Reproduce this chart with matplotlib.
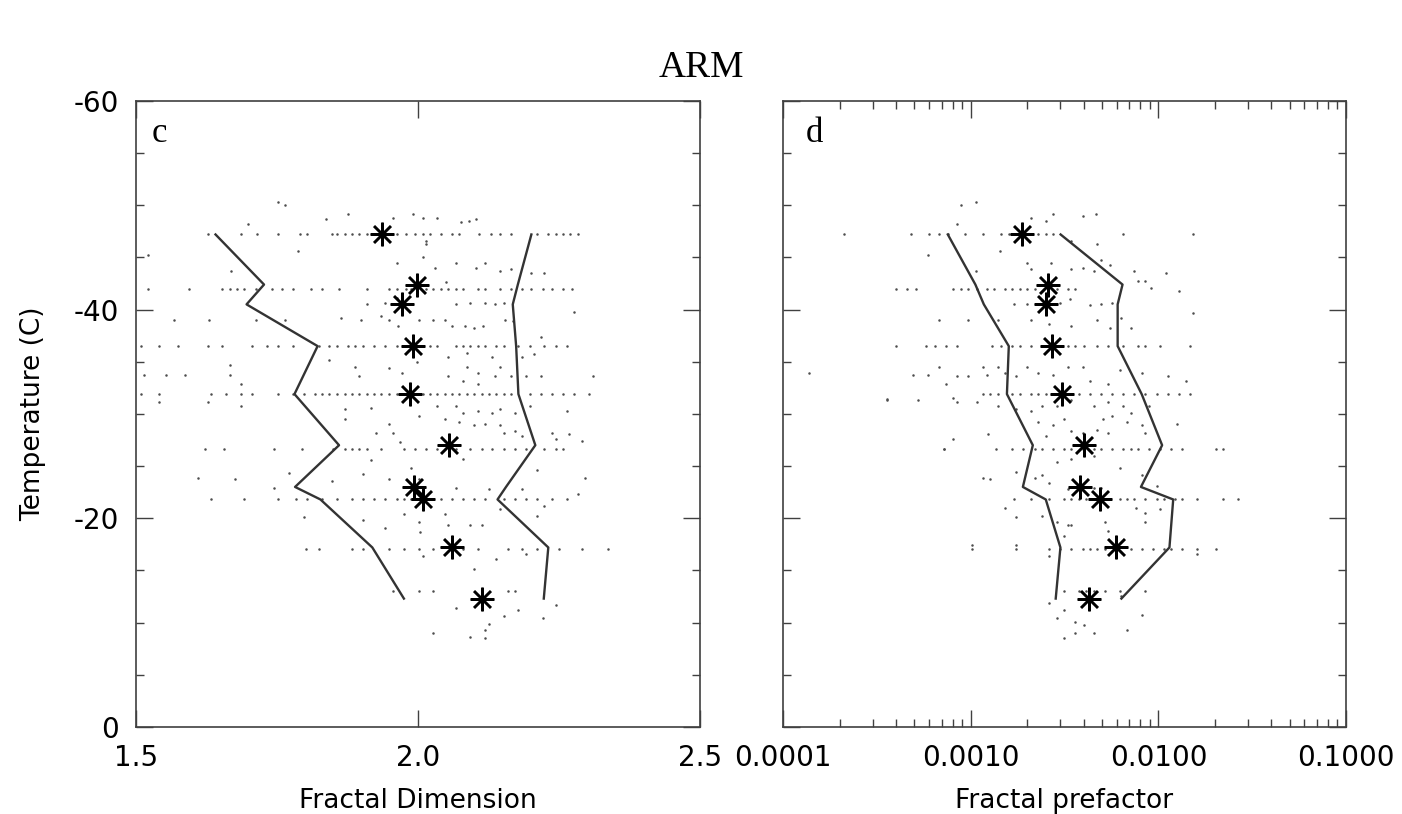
import numpy as np
import matplotlib.pyplot as plt
from matplotlib.ticker import MultipleLocator, LogLocator, NullFormatter

plt.rcParams['axes.unicode_minus'] = False
tick_font = ['Liberation Sans Narrow', 'DejaVu Sans Condensed', 'DejaVu Sans']
serif_font = ['Liberation Serif', 'DejaVu Serif']

# temperature levels of the stars / percentile lines
temp_levels = [-47.2, -42.4, -40.5, -36.5, -31.9, -27.0, -23.0, -21.8, -17.2, -12.3]

# panel c: fractal dimension
dim_median = [1.937, 1.998, 1.971, 1.992, 1.986, 2.055, 1.993, 2.008, 2.061, 2.113]
dim_low = [1.641, 1.727, 1.696, 1.822, 1.781, 1.860, 1.782, 1.827, 1.919, 1.975]
dim_high = [2.201, 2.177, 2.168, 2.174, 2.178, 2.208, 2.156, 2.141, 2.231, 2.223]

# panel d: fractal prefactor (log10)
pref_median_log = [-2.725, -2.587, -2.600, -2.565, -2.512, -2.394, -2.417, -2.311, -2.226, -2.368]
pref_low_log = [-3.122, -2.975, -2.930, -2.797, -2.807, -2.669, -2.722, -2.600, -2.522, -2.547]
pref_high_log = [-2.521, -2.191, -2.217, -2.217, -2.089, -1.980, -2.093, -1.921, -1.941, -2.197]

# individual points, grouped on the temperature rows
row_temps = [-47.2, -42.0, -36.5, -31.9, -26.6, -21.8, -17.1, -13.0]

dim_rows = [
    [1.627, 1.686, 1.715, 1.751, 1.791, 1.804, 1.847, 1.857, 1.870, 1.883, 1.896, 1.909, 1.962, 1.978, 1.994,
     2.008, 2.021, 2.040, 2.060, 2.073, 2.109, 2.129, 2.145, 2.165, 2.211, 2.231, 2.244, 2.257, 2.270, 2.283],
    [1.522, 1.594, 1.653, 1.666, 1.679, 1.692, 1.712, 1.742, 1.758, 1.778, 1.811, 1.830, 1.860, 1.909, 1.948,
     1.962, 1.978, 1.988, 2.014, 2.027, 2.040, 2.054, 2.067, 2.080, 2.106, 2.119, 2.145, 2.165, 2.185, 2.201,
     2.221, 2.237, 2.257, 2.273],
    [1.509, 1.541, 1.574, 1.627, 1.653, 1.706, 1.732, 1.751, 1.778, 1.824, 1.843, 1.857, 1.876, 1.889, 1.902,
     1.922, 1.942, 1.962, 2.021, 2.034, 2.067, 2.080, 2.093, 2.106, 2.119, 2.139, 2.152, 2.178, 2.198, 2.224,
     2.244, 2.264],
    [1.509, 1.541, 1.633, 1.660, 1.686, 1.706, 1.751, 1.778, 1.797, 1.817, 1.830, 1.843, 1.857, 1.870, 1.883,
     1.896, 1.909, 1.922, 1.935, 1.948, 1.962, 1.975, 2.008, 2.021, 2.034, 2.047, 2.060, 2.073, 2.086, 2.099,
     2.113, 2.126, 2.139, 2.152, 2.165, 2.198, 2.218, 2.237, 2.257, 2.277, 2.303],
    [1.623, 1.656, 1.745, 1.794, 1.850, 1.870, 1.883, 1.896, 1.909, 1.935, 1.975, 1.994, 2.014, 2.034, 2.067,
     2.093, 2.113, 2.132, 2.152, 2.172, 2.191, 2.224, 2.244, 2.257],
    [1.633, 1.692, 1.751, 1.784, 1.804, 1.830, 1.857, 1.883, 1.902, 1.922, 1.942, 1.962, 1.975, 1.988, 2.021,
     2.040, 2.060, 2.080, 2.099, 2.119, 2.152, 2.172, 2.191, 2.211, 2.237, 2.264],
    [1.801, 1.824, 1.883, 1.902, 1.948, 1.975, 2.001, 2.027, 2.080, 2.106, 2.159, 2.185, 2.211, 2.250, 2.290,
     2.336],
    [1.955, 2.001, 2.027, 2.159, 2.172],
]

dim_extra = [
    (1.751, -50.3), (1.765, -50.0), (1.837, -48.7), (1.876, -49.2), (1.955, -48.8), (1.991, -49.2),
    (2.008, -48.8), (2.034, -48.8), (2.076, -48.4), (2.090, -48.5), (2.103, -48.7), (1.699, -48.2),
    (1.788, -45.6), (2.014, -46.6), (2.014, -46.3), (1.522, -45.2), (1.669, -43.7), (1.962, -44.5),
    (2.008, -45.0), (2.031, -44.0), (2.067, -44.5), (2.103, -44.0), (2.119, -44.5), (2.145, -43.7),
    (2.165, -43.9), (2.201, -43.5), (2.224, -43.5), (1.909, -40.5), (1.942, -40.6), (1.962, -41.1),
    (2.050, -42.6), (2.067, -40.5), (2.093, -40.6), (2.119, -40.6), (2.136, -40.5), (2.152, -40.6),
    (2.277, -39.8), (1.568, -39.0), (1.630, -39.0), (1.712, -39.0), (1.765, -39.0), (1.863, -39.2),
    (1.899, -39.0), (1.935, -39.4), (1.948, -39.0), (1.965, -38.4), (2.001, -39.0), (2.027, -39.0),
    (2.047, -39.0), (2.060, -38.4), (2.083, -38.4), (2.099, -38.2), (2.116, -38.4), (2.155, -39.0),
    (2.168, -38.9), (2.218, -37.4), (1.666, -34.7), (1.843, -35.2), (1.889, -34.5), (1.896, -33.6),
    (1.948, -34.4), (1.971, -33.9), (1.998, -35.0), (2.054, -35.5), (2.086, -35.8), (2.086, -34.5),
    (2.106, -33.9), (2.132, -35.5), (2.145, -34.5), (2.185, -35.5), (2.205, -35.7), (1.515, -33.7),
    (1.554, -33.7), (1.587, -33.7), (1.666, -33.7), (1.686, -32.9), (2.054, -33.6), (2.080, -33.2),
    (2.106, -32.9), (2.136, -33.6), (2.165, -33.6), (2.191, -33.6), (2.218, -33.6), (2.310, -33.6),
    (1.541, -31.1), (1.627, -31.1), (1.686, -30.8), (1.870, -30.5), (1.916, -30.6), (1.870, -29.5),
    (1.948, -29.0), (1.955, -28.2), (1.968, -27.3), (1.925, -28.2), (2.080, -30.1), (2.106, -30.3),
    (2.132, -30.1), (2.145, -30.5), (2.172, -30.1), (2.198, -30.8), (2.264, -30.3), (2.073, -29.2),
    (2.099, -28.9), (2.119, -29.0), (2.145, -28.9), (2.172, -28.4), (2.185, -27.9), (2.237, -28.2),
    (2.267, -28.1), (2.290, -27.4), (2.244, -27.6), (2.152, -28.2), (2.001, -29.8), (2.034, -30.8),
    (2.047, -29.5), (2.067, -30.8), (1.916, -25.6), (1.988, -24.8), (2.080, -25.7), (2.211, -24.6),
    (2.296, -23.9), (1.610, -23.9), (1.676, -23.8), (1.771, -24.3), (1.902, -24.2), (1.847, -23.6),
    (1.948, -23.8), (2.001, -23.8), (2.067, -22.9), (2.126, -22.8), (2.185, -22.8), (2.283, -22.3),
    (1.745, -22.9), (1.797, -20.1), (1.902, -19.8), (1.942, -19.1), (1.975, -20.4), (2.001, -19.6),
    (2.004, -18.7), (2.047, -20.4), (2.054, -19.4), (2.093, -19.4), (2.113, -19.4), (2.211, -20.2),
    (2.145, -20.9), (2.224, -21.2), (2.099, -15.1), (2.139, -16.1), (2.191, -16.6), (2.008, -16.4),
    (2.244, -11.7), (2.178, -11.2), (2.152, -10.6), (2.126, -9.9), (2.119, -9.3), (2.027, -9.0),
    (2.093, -8.6), (2.119, -8.5), (2.067, -11.4), (2.221, -10.4),
]

pref_rows_log = [
    [-3.673, -3.319, -3.220, -3.171, -3.122, -3.033, -2.935, -2.837, -2.797, -2.758, -2.679, -2.640, -2.600,
     -2.561, -2.187, -1.813],
    [-3.398, -3.339, -3.289, -3.093, -3.053, -3.014, -2.965, -2.915, -2.876, -2.817, -2.778, -2.738, -2.699,
     -2.659, -2.541, -2.482, -2.443],
    [-3.398, -3.240, -3.191, -3.132, -3.073, -2.886, -2.837, -2.778, -2.738, -2.679, -2.620, -2.541, -2.482,
     -2.443, -2.394, -2.325, -2.266, -2.187, -2.108, -2.069, -1.990, -1.833],
    [-2.935, -2.896, -2.856, -2.778, -2.738, -2.679, -2.640, -2.600, -2.541, -2.482, -2.423, -2.364, -2.305,
     -2.246, -2.187, -2.128, -2.069, -2.010, -1.951, -1.892, -1.833],
    [-3.142, -2.866, -2.778, -2.719, -2.659, -2.620, -2.561, -2.502, -2.463, -2.404, -2.344, -2.305, -2.246,
     -2.187, -2.148, -2.108, -2.049, -1.990, -1.931, -1.872, -1.695, -1.656],
    [-2.768, -2.679, -2.581, -2.502, -2.463, -2.423, -2.384, -2.344, -2.266, -2.207, -2.167, -2.128, -2.069,
     -2.010, -1.970, -1.911, -1.872, -1.793, -1.656, -1.577],
    [-2.994, -2.758, -2.581, -2.522, -2.463, -2.404, -2.364, -2.325, -2.285, -2.148, -2.089, -2.030, -1.970,
     -1.931, -1.872, -1.793, -1.695],
    [-2.502, -2.423, -2.384, -2.344, -2.285, -2.207, -2.069],
]

pref_extra_log = [
    (-3.053, -50.0), (-2.974, -50.3), (-2.679, -48.8), (-2.600, -48.5), (-2.561, -49.2), (-2.404, -49.0),
    (-2.335, -49.2), (-3.073, -48.2), (-2.846, -45.6), (-2.325, -46.3), (-2.463, -46.6), (-3.230, -45.2),
    (-2.699, -44.5), (-2.571, -44.5), (-2.463, -43.9), (-2.404, -44.0), (-2.344, -43.7), (-2.305, -44.8),
    (-2.256, -44.3), (-2.128, -43.7), (-2.069, -42.7), (-1.961, -43.5), (-1.892, -41.8), (-2.039, -42.1),
    (-2.108, -42.7), (-2.974, -43.7), (-2.679, -43.9), (-2.768, -40.5), (-2.699, -40.5), (-2.522, -40.6),
    (-2.472, -41.0), (-2.364, -40.4), (-2.305, -40.5), (-2.246, -40.6), (-1.813, -39.7), (-3.171, -39.0),
    (-3.014, -39.0), (-2.856, -39.0), (-2.679, -39.0), (-2.581, -38.6), (-2.463, -38.4), (-2.325, -39.0),
    (-2.256, -38.2), (-2.197, -39.2), (-2.148, -38.2), (-3.860, -33.9), (-3.309, -33.7), (-3.230, -33.7),
    (-3.171, -34.5), (-3.132, -32.9), (-3.073, -33.6), (-3.014, -33.6), (-2.915, -33.7), (-2.935, -34.5),
    (-2.856, -34.5), (-2.817, -33.9), (-2.758, -33.6), (-2.699, -34.5), (-2.640, -33.9), (-2.561, -33.7),
    (-2.482, -34.5), (-2.404, -34.5), (-2.364, -33.2), (-2.266, -32.9), (-2.207, -34.2), (-2.089, -33.9),
    (-1.951, -33.6), (-1.852, -33.2), (-3.447, -31.3), (-3.093, -31.5), (-3.447, -31.4), (-3.280, -31.3),
    (-3.073, -31.1), (-2.965, -31.1), (-2.856, -30.8), (-2.758, -30.5), (-2.679, -30.3), (-2.620, -30.8),
    (-2.541, -30.8), (-2.463, -31.3), (-2.344, -30.8), (-2.266, -31.1), (-2.187, -30.8), (-2.148, -30.1),
    (-2.049, -30.8), (-2.640, -29.2), (-2.561, -28.9), (-2.502, -29.5), (-2.463, -28.4), (-2.404, -28.2),
    (-2.325, -28.5), (-2.266, -28.2), (-2.167, -29.2), (-2.089, -28.9), (-2.069, -28.2), (-1.902, -29.0),
    (-2.600, -27.9), (-2.906, -28.1), (-3.093, -27.6), (-3.142, -26.6), (-2.295, -29.5), (-2.246, -29.8),
    (-2.935, -23.9), (-2.896, -23.8), (-2.758, -24.4), (-2.659, -23.9), (-2.620, -24.1), (-2.541, -25.4),
    (-2.463, -25.7), (-2.344, -26.0), (-2.207, -24.8), (-2.089, -24.1), (-2.010, -23.1), (-2.581, -23.4),
    (-2.482, -22.8), (-2.344, -22.9), (-2.305, -22.9), (-2.817, -21.0), (-2.758, -20.1), (-2.620, -20.2),
    (-2.541, -19.6), (-2.482, -19.4), (-2.463, -19.4), (-2.285, -19.6), (-2.266, -18.8), (-2.069, -19.6),
    (-2.069, -20.5), (-1.990, -20.9), (-2.118, -21.0), (-2.758, -17.4), (-2.994, -17.4), (-2.502, -18.3),
    (-2.581, -16.4), (-1.793, -16.6), (-2.581, -11.9), (-2.502, -11.2), (-2.541, -10.4), (-2.443, -10.1),
    (-2.394, -9.8), (-2.344, -9.0), (-2.443, -9.0), (-2.502, -8.5), (-2.167, -9.3), (-2.089, -10.7),
    (-2.197, -12.5),
]


def gather(rows, extra):
    xs, ts = [], []
    for t, row in zip(row_temps, rows):
        xs += row
        ts += [t] * len(row)
    xs += [p[0] for p in extra]
    ts += [p[1] for p in extra]
    return np.array(xs), np.array(ts)


def style_axes(ax):
    for s in ax.spines.values():
        s.set_linewidth(1.2)
        s.set_color('0.25')
    ax.tick_params(which='both', direction='in', top=True, right=True,
                   color='0.25', width=1.0, labelsize=20, pad=12)
    ax.tick_params(which='major', length=12)
    ax.tick_params(which='minor', length=6)
    ax.set_ylim(0, -60)
    ax.yaxis.set_major_locator(MultipleLocator(20))
    ax.yaxis.set_minor_locator(MultipleLocator(5))
    for lab in ax.get_xticklabels() + ax.get_yticklabels():
        lab.set_family(tick_font)


fig = plt.figure(figsize=(14.02, 8.14), dpi=100)
ax1 = fig.add_axes([0.097, 0.107, 0.4023, 0.769])
ax2 = fig.add_axes([0.5585, 0.107, 0.4016, 0.769])

dot_style = dict(ls='none', marker='o', ms=1.8, color='0.3', mec='none')
star_style = dict(ls='none', marker=(8, 2, 0), ms=17, mew=1.8, color='k')
line_style = dict(color='0.2', lw=1.7)

# panel c
dx, dt = gather(dim_rows, dim_extra)
ax1.plot(dx, dt, **dot_style)
ax1.plot(dim_low, temp_levels, **line_style)
ax1.plot(dim_high, temp_levels, **line_style)
ax1.plot(dim_median, temp_levels, **star_style)
ax1.set_xlim(1.5, 2.5)
ax1.set_xticks([1.5, 2.0, 2.5])
ax1.set_xticklabels(['1.5', '2.0', '2.5'])
ax1.set_yticks([-60, -40, -20, 0])
ax1.set_yticklabels(['-60', '-40', '-20', '0'])
style_axes(ax1)
ax1.set_xlabel('Fractal Dimension', fontsize=19, family=tick_font, labelpad=12)
ax1.set_ylabel('Temperature (C)', fontsize=19, family=tick_font, labelpad=20)
ax1.text(0.028, 0.935, 'c', transform=ax1.transAxes, fontsize=25, family=serif_font)

# panel d
px, pt = gather(pref_rows_log, pref_extra_log)
ax2.set_xscale('log')
ax2.plot(10 ** px, pt, **dot_style)
ax2.plot(10 ** np.array(pref_low_log), temp_levels, **line_style)
ax2.plot(10 ** np.array(pref_high_log), temp_levels, **line_style)
ax2.plot(10 ** np.array(pref_median_log), temp_levels, **star_style)
ax2.set_xlim(1e-4, 1e-1)
ax2.set_xticks([1e-4, 1e-3, 1e-2, 1e-1])
ax2.set_xticklabels(['0.0001', '0.0010', '0.0100', '0.1000'])
ax2.xaxis.set_minor_locator(LogLocator(base=10, subs=np.arange(2, 10)))
ax2.xaxis.set_minor_formatter(NullFormatter())
style_axes(ax2)
ax2.set_yticklabels([])
ax2.set_xlabel('Fractal prefactor', fontsize=19, family=tick_font, labelpad=12)
ax2.text(0.04, 0.935, 'd', transform=ax2.transAxes, fontsize=25, family=serif_font)

fig.text(0.5, 0.905, 'ARM', ha='center', fontsize=27, family=serif_font)

fig.savefig('out.png', dpi=100)
